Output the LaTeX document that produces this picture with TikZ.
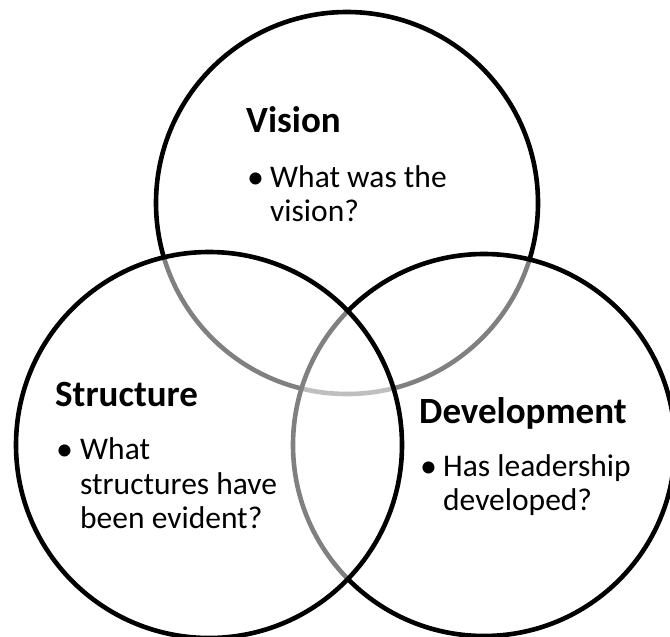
\documentclass[tikz,border=0pt]{standalone}
\usepackage{fontspec}
\setmainfont{Carlito}
\begin{document}
\begin{tikzpicture}[x=1pt,y=-1pt,
  venn/.style={draw=black,line width=4.6pt,fill=white,fill opacity=0.5,draw opacity=1},
  head/.style={anchor=base west,inner sep=0pt,font=\fontsize{37}{41}\selectfont\bfseries},
  body/.style={anchor=base west,inner sep=0pt,font=\fontsize{31.5}{35}\selectfont},
  bul/.style={anchor=base west,inner sep=0pt,font=\fontsize{34}{38}\selectfont}]
\useasboundingbox (0,0) rectangle (670,637);
\fill[white] (0,0) rectangle (670,637);
% circles: top, right, left
\path[venn] (347,203) circle[radius=191];
\path[venn] (484,445) circle[radius=191];
\path[venn] (209,445) circle[radius=193];
% Vision
\node[head] (vh) at (246,132) {Vision};
\node[bul] (vb) at (247,188) {•};
\node[body] (v1) at (270,187) {What was the};
\node[body] (v2) at (270,221.5) {vision?};
% Structure
\node[head] (sh) at (55,406.5) {Structure};
\node[bul] (sb) at (56,460) {•};
\node[body] (s1) at (80,459) {What};
\node[body] (s2) at (80,494) {structures have};
\node[body] (s3) at (80,528.5) {been evident?};
% Development
\node[head] (dh) at (419,423) {Development};
\node[bul] (db) at (420,477) {•};
\node[body] (d1) at (443,476) {Has leadership};
\node[body] (d2) at (443,510) {developed?};
\end{tikzpicture}
\end{document}
